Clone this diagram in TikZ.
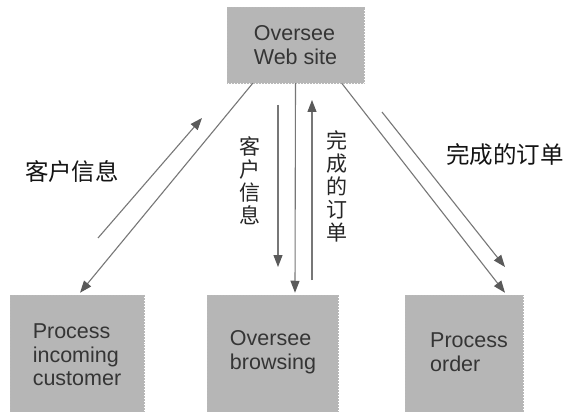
\documentclass[tikz,border=0pt]{standalone}
\usepackage{fontspec}
\setmainfont{Liberation Sans}
\newfontfamily\cjk{Noto Sans CJK SC}
\usetikzlibrary{arrows.meta,calc}
\definecolor{boxgray}{HTML}{B6B6B6}
\definecolor{linegray}{HTML}{777777}
\definecolor{headgray}{HTML}{5A5A5A}
\definecolor{txtgray}{HTML}{353535}
\begin{document}
\begin{tikzpicture}[x=1pt,y=-1pt,
 procbox/.style={rectangle, fill=boxgray, draw=black!28, densely dotted, line width=0.5pt, inner sep=0pt, text=txtgray, font=\fontsize{21.5}{23.5}\selectfont, align=left},
 boxtext/.style={text=txtgray, font=\fontsize{21.5}{23.5}\selectfont, align=left, inner sep=0pt},
 flow/.style={draw=linegray, line width=1.1pt, solid, -{Triangle[length=12pt,width=9pt,color=headgray]}},
 cjklabel/.style={font=\cjk\fontsize{23.5}{24}\selectfont, text=black!92, inner sep=0pt},
 vlabel/.style={font=\cjk\fontsize{21}{23}\selectfont, text=black!85, inner sep=0pt, align=center}]
\useasboundingbox (0,0) rectangle (566,412);
\fill[white] (0,0) rectangle (566,412);
% boxes
\node[procbox, minimum width=137pt, minimum height=76pt] (top) at (295.5,45) {Oversee\\Web site};
\node[procbox, minimum width=134pt, minimum height=120pt] (left) at (77,355) {Process\\incoming\\customer};
\node[procbox, minimum width=131pt, minimum height=120pt] (mid) at (272.5,355) {};
\node[procbox, minimum width=118pt, minimum height=120pt] (right) at (464,355) {};
\node[boxtext] (midtext) at (273,352) {Oversee\\browsing};
\node[boxtext] (righttext) at (469,352) {Process\\order};
% free ends
\coordinate (s1a) at (98,238);
\coordinate (s1b) at (202,118);
\coordinate (s2a) at (278,105);
\coordinate (s2b) at (278,267);
\coordinate (s3a) at (312,280);
\coordinate (s3b) at (312,100);
\coordinate (s4a) at (382,112);
\coordinate (s4b) at (505,267);
% connectors
\draw[flow] ($(top.south west)+(26,0)$) -- ($(left.north)+(3,-2)$);
\draw[flow] (s1a) -- (s1b);
\draw[flow] (s2a) -- (s2b);
\draw[flow] (top.south) -- ($(mid.north)+(22.5,-2)$);
\draw[flow] (s3a) -- (s3b);
\draw[flow] ($(top.south west)+(115,0)$) -- ($(right.north)+(41,-2)$);
\draw[flow] (s4a) -- (s4b);
% labels
\node[cjklabel] (l1) at (72,172) {客户信息};
\node[cjklabel] (l2) at (505,155) {完成的订单};
\node[vlabel] (v1) at (250,181) {客\\户\\信\\息};
\node[vlabel] (v2) at (337,186) {完\\成\\的\\订\\单};
\end{tikzpicture}
\end{document}
